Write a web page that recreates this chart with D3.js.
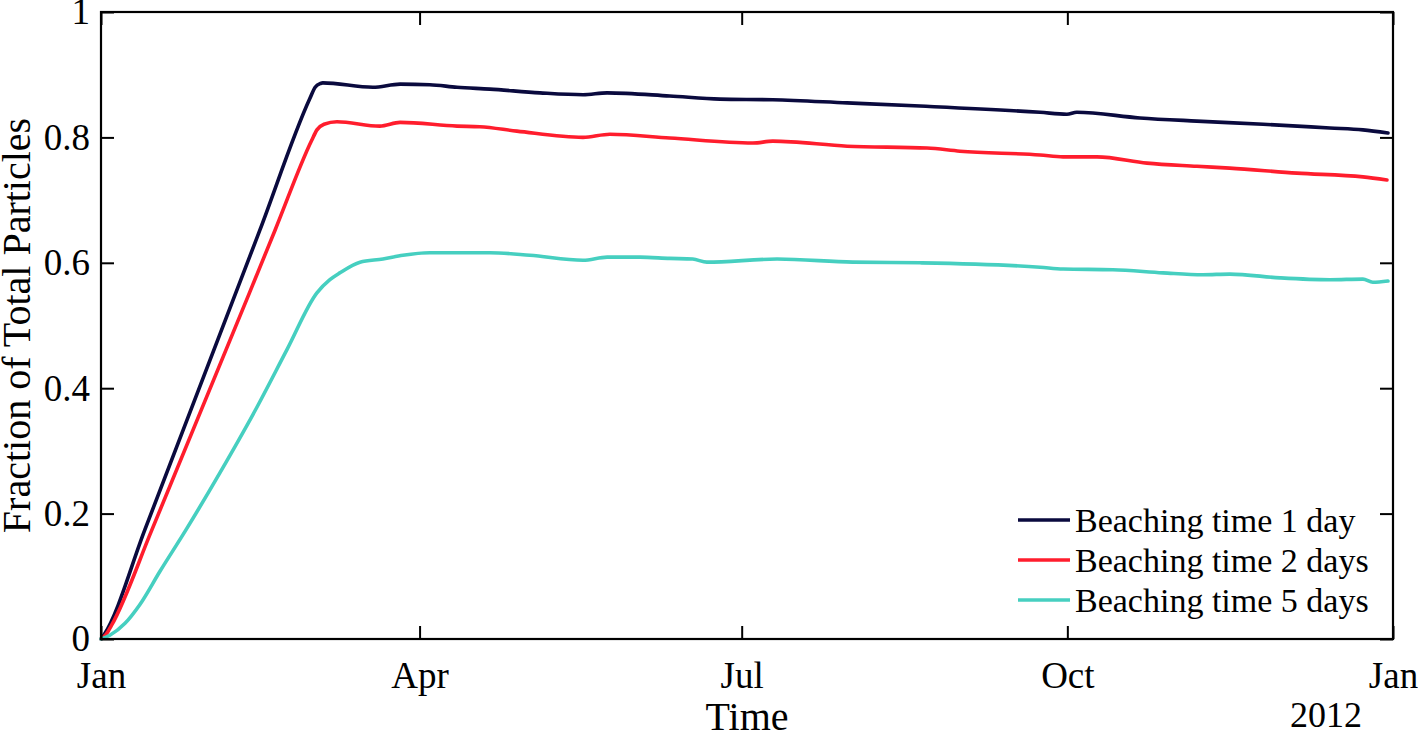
<!DOCTYPE html>
<html>
<head>
<meta charset="utf-8">
<script src="https://cdn.jsdelivr.net/npm/d3@7"></script>
<style>
  body { margin: 0; background: #fff; }
  svg text { font-family: "Liberation Serif", "Times New Roman", serif; fill: #000; }
</style>
</head>
<body>
<div id="chart"></div>
<script>
// data: days since 1 Jan 2011 and fraction of particles
var days1 = [0, 1, 12.4, 44.9, 59, 60.5, 62, 62.7, 76.8, 84.5, 92.9, 100.6, 109.9, 124, 136.2, 143, 160.7, 174.9, 189.8, 210.8, 231.4, 265.3, 272.9, 275.7, 293.5, 309.6, 328.3, 347.2, 356.5, 363.6];
var vals1 = [0, 0.008, 0.174, 0.652, 0.862, 0.88, 0.886, 0.887, 0.88, 0.885, 0.884, 0.88, 0.877, 0.871, 0.868, 0.871, 0.866, 0.861, 0.86, 0.855, 0.85, 0.84, 0.837, 0.84, 0.831, 0.826, 0.821, 0.815, 0.812, 0.807];

var days2 = [0, 1.5, 3, 14.4, 49.2, 59.5, 61, 63, 66.7, 78.8, 84.5, 100.6, 107, 117.5, 136.2, 143.8, 160.7, 184.2, 189.8, 210.8, 233.4, 242.7, 265.3, 271.8, 281.4, 295.5, 309.6, 318.9, 337.9, 356.5, 363.3];
var vals2 = [0, 0.008, 0.022, 0.174, 0.652, 0.795, 0.812, 0.821, 0.825, 0.818, 0.824, 0.818, 0.817, 0.81, 0.8, 0.805, 0.799, 0.791, 0.794, 0.786, 0.783, 0.778, 0.772, 0.769, 0.769, 0.759, 0.754, 0.751, 0.743, 0.737, 0.732];

var days3 = [0, 2.5, 6.8, 11, 16.7, 24, 33.6, 44.1, 52.5, 61, 64.7, 67.5, 73.2, 79.7, 85.3, 92.9, 109.9, 121.2, 136.2, 143, 152.3, 160.7, 167.2, 171.2, 191, 212.4, 231.4, 265.3, 271.8, 285.9, 300, 311.3, 318.9, 333.1, 347.2, 356.5, 359.3, 363.6];
var vals3 = [0, 0.006, 0.025, 0.055, 0.108, 0.174, 0.265, 0.37, 0.461, 0.552, 0.573, 0.584, 0.601, 0.606, 0.612, 0.616, 0.616, 0.612, 0.604, 0.609, 0.609, 0.607, 0.606, 0.601, 0.606, 0.601, 0.6, 0.593, 0.59, 0.589, 0.584, 0.581, 0.582, 0.576, 0.573, 0.574, 0.569, 0.571];

var seriesNames = ["Beaching time 1 day", "Beaching time 2 days", "Beaching time 5 days"];
var seriesColors = ["#0a0a3e", "#ff1d2d", "#46cfc0"];
var yTicks = [0, 0.2, 0.4, 0.6, 0.8, 1];
var yTickLabels = ["0", "0.2", "0.4", "0.6", "0.8", "1"];
var monthLabels = ["Jan", "Apr", "Jul", "Oct", "Jan"];
var yearLabel = "2012";

var svgWidth = 1418, svgHeight = 736;
var margin = { top: 12, right: 25, bottom: 97, left: 101 };
var width = svgWidth - margin.left - margin.right;
var height = svgHeight - margin.top - margin.bottom;

var start = new Date(2011, 0, 1);
var end = new Date(2012, 0, 1);

var svg = d3.select("#chart").append("svg")
    .attr("width", svgWidth).attr("height", svgHeight);

var chartGroup = svg.append("g").attr("transform", `translate(${margin.left}, ${margin.top})`);

var x = d3.scaleTime().domain([start, end]).range([0, width]);
var y = d3.scaleLinear().domain([0, 1]).range([height, 0]);

var monthTicks = d3.timeMonth.range(start, d3.timeDay.offset(end, 1), 3);

var tickLen = 13;

// axes, ticks inward, mirrored on all sides
var bottomAxis = d3.axisBottom(x).tickValues(monthTicks)
    .tickFormat((d, i) => monthLabels[i]).tickSizeInner(-tickLen).tickSizeOuter(0).tickPadding(23);
var topAxis = d3.axisTop(x).tickValues(monthTicks).tickFormat("").tickSizeInner(-tickLen).tickSizeOuter(0);
var leftAxis = d3.axisLeft(y).tickValues(yTicks)
    .tickFormat((d, i) => yTickLabels[i]).tickSizeInner(-tickLen).tickSizeOuter(0).tickPadding(11);
var rightAxis = d3.axisRight(y).tickValues(yTicks).tickFormat("").tickSizeInner(-tickLen).tickSizeOuter(0);

function styleAxis(g) {
    g.select(".domain").remove();
    g.selectAll(".tick line").attr("stroke", "#000").attr("stroke-width", 2);
    g.selectAll(".tick text").attr("font-size", 37).attr("fill", "#000")
        .style("font-family", "'Liberation Serif', serif");
}

var lines = [
    days1.map((d, i) => ({ date: d3.timeHour.offset(start, d * 24), v: vals1[i] })),
    days2.map((d, i) => ({ date: d3.timeHour.offset(start, d * 24), v: vals2[i] })),
    days3.map((d, i) => ({ date: d3.timeHour.offset(start, d * 24), v: vals3[i] }))
];

var line = d3.line().x(d => x(d.date)).y(d => y(d.v)).curve(d3.curveMonotoneX);

chartGroup.selectAll(".series").data(lines).enter().append("path")
    .attr("class", "series")
    .attr("d", line)
    .attr("fill", "none")
    .attr("stroke", (d, i) => seriesColors[i])
    .attr("stroke-width", 3.6)
    .attr("stroke-linejoin", "round")
    .attr("stroke-linecap", "round");

chartGroup.append("g").attr("transform", `translate(0, ${height})`).call(bottomAxis).call(styleAxis);
chartGroup.append("g").call(topAxis).call(styleAxis);
chartGroup.append("g").call(leftAxis).call(styleAxis);
chartGroup.append("g").attr("transform", `translate(${width}, 0)`).call(rightAxis).call(styleAxis);

// box
chartGroup.append("rect")
    .attr("x", 0).attr("y", 0).attr("width", width).attr("height", height)
    .attr("fill", "none").attr("stroke", "#000").attr("stroke-width", 2.2);

// year under the last Jan
chartGroup.append("text")
    .attr("x", x(end) - 67).attr("y", height + 88)
    .attr("text-anchor", "middle").attr("font-size", 36)
    .text(yearLabel);

// axis titles
chartGroup.append("text")
    .attr("x", width / 2).attr("y", height + 91)
    .attr("text-anchor", "middle").attr("font-size", 40)
    .text("Time");

svg.append("text")
    .attr("transform", `translate(30, ${margin.top + height / 2}) rotate(-90)`)
    .attr("text-anchor", "middle").attr("font-size", 40)
    .text("Fraction of Total Particles");

// legend
var legend = chartGroup.append("g").attr("transform", `translate(${1018 - margin.left}, ${520 - margin.top})`);
seriesNames.forEach(function(name, i) {
    var row = legend.append("g").attr("transform", `translate(0, ${i * 40})`);
    row.append("line").attr("x1", 0).attr("x2", 52).attr("y1", 0).attr("y2", 0)
        .attr("stroke", seriesColors[i]).attr("stroke-width", 3.6);
    row.append("text").attr("x", 57).attr("y", 12).attr("font-size", 34).text(name);
});
</script>
</body>
</html>
